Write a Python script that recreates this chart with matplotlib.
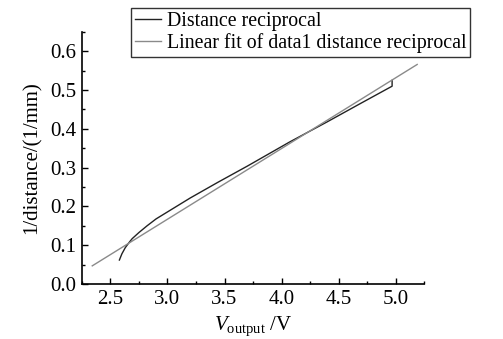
import matplotlib.pyplot as plt
from matplotlib.ticker import MultipleLocator

plt.rcParams["font.family"] = ["Liberation Serif", "DejaVu Serif"]
plt.rcParams["mathtext.fontset"] = "custom"
plt.rcParams["mathtext.rm"] = "Liberation Serif"
plt.rcParams["mathtext.it"] = "Liberation Serif:italic"

v_out = [2.578, 2.60, 2.63, 2.66, 2.69, 2.75, 2.82, 2.90, 3.00, 3.20, 3.44,
         3.70, 4.07, 4.40, 4.69, 4.97, 4.97]
inv_dist = [0.062, 0.078, 0.094, 0.106, 0.117, 0.133, 0.150, 0.168, 0.186,
            0.222, 0.262, 0.304, 0.366, 0.418, 0.465, 0.510, 0.525]

# linear fit line end points
fit_x = [2.34, 5.19]
fit_y = [0.047, 0.566]

fig = plt.figure(figsize=(5.03, 3.39), dpi=100)
ax = fig.add_axes([0.163, 0.162, 0.68, 0.744])

l1, = ax.plot(v_out, inv_dist, color="#222222", lw=1.0)
l2, = ax.plot(fit_x, fit_y, color="#8a8a8a", lw=1.0)

ax.set_xlim(2.25, 5.25)
ax.set_ylim(0, 0.65)
ax.xaxis.set_major_locator(MultipleLocator(0.5))
ax.xaxis.set_minor_locator(MultipleLocator(0.25))
ax.yaxis.set_major_locator(MultipleLocator(0.1))
ax.yaxis.set_minor_locator(MultipleLocator(0.05))
ax.tick_params(which="both", direction="in", labelsize=15, width=1)
ax.tick_params(which="major", length=4, pad=4)
ax.tick_params(which="minor", length=2.5)
ax.xaxis.set_major_formatter(plt.FormatStrFormatter("%.1f"))
ax.yaxis.set_major_formatter(plt.FormatStrFormatter("%.1f"))

for s in ["top", "right"]:
    ax.spines[s].set_visible(False)
for s in ["left", "bottom"]:
    ax.spines[s].set_linewidth(1.2)

ax.set_ylabel("1/distance/(1/mm)", fontsize=15, labelpad=6)
ax.set_xlabel(r"$V_{\mathrm{output}}$ /V", fontsize=15, labelpad=4)

leg = fig.legend([l1, l2], ["Distance reciprocal",
                            "Linear fit of data1 distance reciprocal"],
                 loc="upper left", bbox_to_anchor=(131 / 503, 1 - 8 / 339),
                 fontsize=14.3, frameon=True, fancybox=False,
                 handlelength=1.3, handletextpad=0.3, borderpad=0.2,
                 labelspacing=0.1, borderaxespad=0)
leg.get_frame().set_edgecolor("black")
leg.get_frame().set_linewidth(1.0)

plt.savefig("out.png", dpi=100)
plt.close()
